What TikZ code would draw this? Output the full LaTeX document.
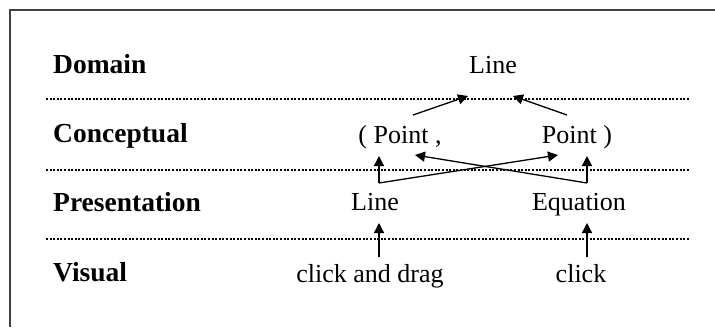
\documentclass[tikz,border=0pt]{standalone}
\usepackage{fontspec}
\setmainfont{Liberation Serif}
\usetikzlibrary{arrows.meta}

\tikzset{
  layer/.style={anchor=base west, inner sep=0pt, font=\fontsize{27.5}{32}\selectfont\bfseries},
  item/.style={anchor=base, inner sep=0pt, font=\fontsize{26}{30}\selectfont},
  sep/.style={line width=1.1pt, dash pattern=on 2pt off 1.6pt},
  arr/.style={line width=1.3pt, -{Triangle[length=10pt,width=10pt]}}
}

\begin{document}
\begin{tikzpicture}[x=1pt,y=-1pt]
\useasboundingbox (0,0) rectangle (715,327);

% frame
\draw[line width=1.5pt, black!75] (10,327) -- (10,10) -- (715,10);

% layers
\node[layer] (lDom) at (53,73) {Domain};
\node[layer] (lCon) at (53,142) {Conceptual};
\node[layer] (lPre) at (53,211) {Presentation};
\node[layer] (lVis) at (53,281) {Visual};

\foreach \y in {99,170,239}
  \draw[sep] (46,\y) -- (690,\y);

% items
\node[item] (dLine) at (493,73) {Line};
\node[item] (cPtA) at (400,143) {( Point ,};
\node[item] (cPtB) at (577,143) {Point )};
\node[item] (pLine) at (375,210) {Line};
\node[item] (pEq) at (579,210) {Equation};
\node[item] (vDrag) at (370,282) {click and drag};
\node[item] (vClick) at (581,282) {click};

% arrow ends
\coordinate (sA) at (413,115);
\coordinate (tA) at (468,96);
\coordinate (sB) at (567,115);
\coordinate (tB) at (513,96);
\coordinate (jL) at (379,183);
\coordinate (jE) at (587,183);
\coordinate (uL) at (379,156);
\coordinate (uE) at (587,156);
\coordinate (xL) at (558,155);
\coordinate (xE) at (415,155);
\coordinate (bL) at (379,257);
\coordinate (bE) at (587,257);
\coordinate (hL) at (379,223);
\coordinate (hE) at (587,223);

% points -> line
\draw[arr] (sA) -- (tA);
\draw[arr] (sB) -- (tB);

% presentation -> points
\draw[arr] (jL) -- (uL);
\draw[arr] (jL) -- (xL);
\draw[arr] (jE) -- (uE);
\draw[arr] (jE) -- (xE);

% visual -> presentation
\draw[arr] (bL) -- (hL);
\draw[arr] (bE) -- (hE);
\end{tikzpicture}
\end{document}
